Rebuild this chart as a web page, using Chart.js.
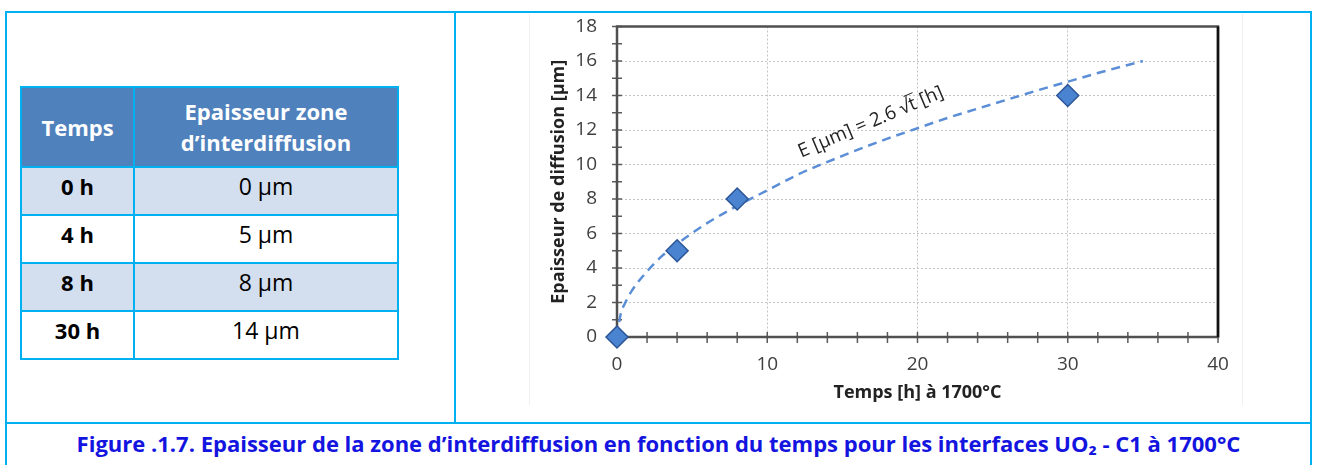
<!DOCTYPE html>
<html>
<head>
<meta charset="utf-8">
<script src="https://cdn.jsdelivr.net/npm/chart.js@4.4.1/dist/chart.umd.min.js"></script>
<style>
  html, body { margin: 0; padding: 0; background: #fff; }
  body { width: 1317px; height: 465px; position: relative; overflow: hidden; font-family: "Open Sans", Lato, sans-serif; }
  .frame { position: absolute; left: 5px; top: 11px; width: 1303px; height: 470px; border: 2px solid #00b0f0; border-bottom: none; }
  .hline { position: absolute; left: 5px; top: 422px; width: 1307px; height: 2px; background: #00b0f0; }
  .vline { position: absolute; left: 454px; top: 11px; width: 2px; height: 412px; background: #00b0f0; }
  table { position: absolute; left: 20px; top: 86px; border-collapse: collapse; }
  td, th { border: 2px solid #00b0f0; text-align: center; font-size: 23px; color: #000; }
  th { background: #4f81bd; color: #fff; font-weight: bold; font-size: 22px; height: 78px; line-height: 31px; padding: 0; }
  td { height: 48px; vertical-align: top; padding: 5px 0 0 0; line-height: 27px; box-sizing: border-box; }
  td.t { font-weight: bold; font-size: 22px; }
  tr.alt td { background: #d3dfee; }
  .chartbox { position: absolute; left: 529px; top: 14px; width: 712px; height: 391px; border-left: 1px solid #f0f0f0; border-right: 1px solid #f0f0f0; }
  .caption { position: absolute; left: 0; top: 428px; width: 1317px; text-align: center; font-weight: bold; font-size: 22px; line-height: 30px; color: #1414e0; }
</style>
</head>
<body>
<div class="frame"></div>
<div class="hline"></div>
<div class="vline"></div>
<table id="tbl">
  <thead><tr><th style="width:111px">Temps</th><th style="width:262px">Epaisseur zone<br>d’interdiffusion</th></tr></thead>
  <tbody id="tbody"></tbody>
</table>
<div class="chartbox"><canvas id="diffChart"></canvas></div>
<div class="caption">Figure .1.7. Epaisseur de la zone d’interdiffusion en fonction du temps pour les interfaces UO₂ - C1 à 1700°C</div>
<script>
// mesures
const tempsH = [0, 4, 8, 30];
const epaisseurUm = [0, 5, 8, 14];
// courbe de tendance
const fitT = [0, 0.25, 0.5, 1, 2, 3, 4, 6, 8, 10, 12, 15, 18, 20, 22, 25, 28, 30, 32, 35];
const fitE = [0, 1.35, 1.9, 2.7, 3.8, 4.7, 5.4, 6.6, 7.6, 8.5, 9.4, 10.5, 11.5, 12.1, 12.7, 13.5, 14.3, 14.8, 15.3, 16.0];
const xTicks = [0, 10, 20, 30, 40];
const yTicks = [0, 2, 4, 6, 8, 10, 12, 14, 16, 18];
const fitLabel = { x: 16.9, y: 12.45, angle: -23 };

const tbody = document.getElementById('tbody');
tempsH.forEach((t, i) => {
    const tr = document.createElement('tr');
    if (i % 2 === 0) tr.className = 'alt';
    tr.innerHTML = '<td class="t">' + t + ' h</td><td>' + epaisseurUm[i] + ' µm</td>';
    tbody.appendChild(tr);
});

const frameAndTicks = {
    id: 'frameAndTicks',
    beforeDatasetsDraw(chart) {
        const ctx = chart.ctx;
        const a = chart.chartArea;
        const xs = chart.scales.x, ys = chart.scales.y;
        ctx.save();
        ctx.strokeStyle = '#5a5a5a';
        ctx.lineWidth = 1.5;
        for (let v = 0; v <= 40; v += 2) {
            const px = xs.getPixelForValue(v);
            ctx.beginPath(); ctx.moveTo(px, a.bottom - 5); ctx.lineTo(px, a.bottom + 6); ctx.stroke();
        }
        for (let v = 0; v <= 18; v += 1) {
            const py = ys.getPixelForValue(v);
            ctx.beginPath(); ctx.moveTo(a.left - 5, py); ctx.lineTo(a.left + 5, py); ctx.stroke();
        }
        ctx.lineWidth = 2.5;
        ctx.strokeStyle = '#505050';
        ctx.strokeRect(a.left, a.top, a.right - a.left, a.bottom - a.top);
        ctx.strokeStyle = '#111';
        ctx.beginPath(); ctx.moveTo(a.right, a.top); ctx.lineTo(a.right, a.bottom); ctx.stroke();
        ctx.restore();
    },
    afterDraw(chart) {
        // étiquette de l'équation
        const ctx = chart.ctx;
        const px = chart.scales.x.getPixelForValue(fitLabel.x);
        const py = chart.scales.y.getPixelForValue(fitLabel.y);
        ctx.save();
        ctx.translate(px, py);
        ctx.rotate(fitLabel.angle * Math.PI / 180);
        ctx.font = '19px "Open Sans"';
        ctx.fillStyle = '#222';
        ctx.textBaseline = 'middle';
        const p1 = 'E [µm] = 2.6 √', p2 = 't', p3 = ' [h]';
        const w1 = ctx.measureText(p1).width, w2 = ctx.measureText(p2).width, w3 = ctx.measureText(p3).width;
        let x0 = -(w1 + w2 + w3) / 2;
        ctx.fillText(p1, x0, 0);
        ctx.fillText(p2, x0 + w1, 0);
        ctx.fillText(p3, x0 + w1 + w2, 0);
        ctx.strokeStyle = '#222';
        ctx.lineWidth = 1;
        ctx.beginPath(); ctx.moveTo(x0 + w1 - 2, -11); ctx.lineTo(x0 + w1 + w2 + 1, -11); ctx.stroke();
        ctx.restore();
    }
};

document.addEventListener('DOMContentLoaded', () => {
    new Chart(document.getElementById('diffChart'), {
        type: 'scatter',
        data: {
            datasets: [{
                label: 'Mesures',
                data: tempsH.map((t, i) => ({ x: t, y: epaisseurUm[i] })),
                pointStyle: 'rectRot',
                pointRadius: 11,
                pointHoverRadius: 11,
                backgroundColor: '#4a84d0',
                borderColor: '#2c5597',
                borderWidth: 1.5,
                clip: false,
                order: 1
            }, {
                label: 'Tendance',
                type: 'line',
                data: fitT.map((t, i) => ({ x: t, y: fitE[i] })),
                borderColor: '#5b8ed6',
                borderWidth: 2.5,
                borderDash: [9, 6],
                pointRadius: 0,
                cubicInterpolationMode: 'monotone',
                fill: false,
                order: 2
            }]
        },
        options: {
            responsive: true,
            maintainAspectRatio: false,
            animation: false,
            layout: { padding: { top: 12, right: 24, left: 0, bottom: 0 } },
            scales: {
                x: {
                    type: 'linear',
                    min: 0,
                    max: 40,
                    afterFit: s => { s.height = 68; s.paddingLeft = 0; s.paddingRight = 0; },
                    afterBuildTicks: s => { s.ticks = xTicks.map(v => ({ value: v })); },
                    ticks: { padding: 16, color: '#404040', font: { family: 'Open Sans', size: 19 } },
                    grid: { color: '#c4c4c4', drawTicks: false, lineWidth: 1 },
                    border: { display: false, dash: [2, 2] },
                    title: { display: true, text: 'Temps [h] à 1700°C', color: '#222', font: { family: 'Open Sans', size: 18, weight: 'bold' }, padding: { top: 0, bottom: 1 } }
                },
                y: {
                    type: 'linear',
                    min: 0,
                    max: 18,
                    afterFit: s => { s.width = 87; s.paddingTop = 0; s.paddingBottom = 0; },
                    afterBuildTicks: s => { s.ticks = yTicks.map(v => ({ value: v })); },
                    ticks: { padding: 20, color: '#404040', font: { family: 'Open Sans', size: 19 } },
                    grid: { color: '#c4c4c4', drawTicks: false, lineWidth: 1 },
                    border: { display: false, dash: [2, 2] },
                    title: { display: true, text: 'Epaisseur de diffusion [µm]', color: '#222', font: { family: 'Open Sans', size: 18, weight: 'bold' }, padding: { top: 18, bottom: 0 } }
                }
            },
            plugins: {
                legend: { display: false },
                tooltip: { enabled: false }
            }
        },
        plugins: [frameAndTicks]
    });
});
</script>
</body>
</html>
